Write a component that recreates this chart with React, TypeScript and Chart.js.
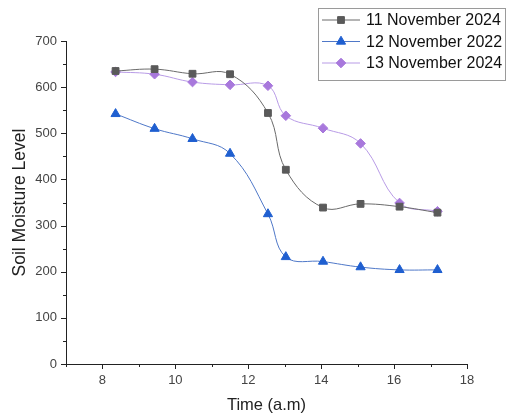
import React, { useEffect, useRef } from 'react';
import { Chart, registerables } from 'chart.js';
import { drawPoint } from 'chart.js/helpers';

Chart.register(...registerables);

const times = [8.36, 9.43, 10.47, 11.5, 12.54, 13.03, 14.05, 15.08, 16.15, 17.19];
const nov11_2024 = [635, 639, 629, 628, 544, 421, 339, 347, 341, 328];
const nov12_2022 = [542, 510, 488, 456, 325, 232, 222, 210, 204, 204];
const nov13_2024 = [633, 628, 611, 605, 603, 538, 511, 478, 349, 331];
const seriesLabels = ['11 November 2024', '12 November 2022', '13 November 2024'];
const xTickValues = [7, 8, 10, 12, 14, 16, 18];
const yTickValues = [0, 100, 200, 300, 400, 500, 600, 700];

const FONT = 'Arial, "Liberation Sans", sans-serif';

const minorTicks = {
  id: 'minorTicks',
  afterDraw(chart: any) {
    const ctx = chart.ctx;
    const xs = chart.scales.x;
    const ys = chart.scales.y;
    const area = chart.chartArea;
    ctx.save();
    ctx.strokeStyle = '#222';
    ctx.lineWidth = 1;
    ctx.beginPath();
    for (let v = 7; v <= 18; v += 1) {
      const px = Math.round(xs.getPixelForValue(v)) + 0.5;
      const len = v % 2 === 0 ? 5 : 3;
      ctx.moveTo(px, area.bottom);
      ctx.lineTo(px, area.bottom + len);
    }
    for (let v = 0; v <= 700; v += 50) {
      const py = Math.round(ys.getPixelForValue(v)) + 0.5;
      const len = v % 100 === 0 ? 5 : 3;
      ctx.moveTo(area.left, py);
      ctx.lineTo(area.left - len, py);
    }
    ctx.stroke();
    ctx.restore();
  },
};

const boxLegend = {
  id: 'boxLegend',
  afterDraw(chart: any) {
    const ctx = chart.ctx;
    ctx.save();
    ctx.strokeStyle = '#9a9a9a';
    ctx.lineWidth = 1;
    ctx.strokeRect(318.5, 8.5, 187, 72);
    chart.data.datasets.forEach((ds: any, i: number) => {
      const y = 20 + i * 21.5;
      ctx.strokeStyle = ds.borderColor;
      ctx.lineWidth = 1;
      ctx.beginPath();
      ctx.moveTo(322, y);
      ctx.lineTo(360, y);
      ctx.stroke();
      ctx.fillStyle = ds.pointBackgroundColor;
      ctx.strokeStyle = ds.pointBorderColor;
      drawPoint(ctx, { pointStyle: ds.pointStyle, radius: ds.pointRadius, borderWidth: 1, rotation: 0 }, 341, y);
      ctx.fillStyle = '#111';
      ctx.font = '16px ' + FONT;
      ctx.textBaseline = 'middle';
      ctx.textAlign = 'left';
      ctx.fillText(ds.label, 366, y + 1);
    });
    ctx.restore();
  },
};

export default function App() {
  const ref = useRef<HTMLCanvasElement>(null);
  useEffect(() => {
    if (!ref.current) return;
    const mk = (vals: number[]) => vals.map((v, i) => ({ x: times[i], y: v }));
    const chart = new Chart(ref.current, {
      type: 'line',
      data: {
        datasets: [
          {
            label: seriesLabels[0],
            data: mk(nov11_2024),
            borderColor: '#6a6a6a',
            backgroundColor: '#5a5a5a',
            pointBackgroundColor: '#5a5a5a',
            pointBorderColor: '#5a5a5a',
            pointStyle: 'rect',
            pointRadius: 4.8,
            borderWidth: 1,
            tension: 0.4,
          },
          {
            label: seriesLabels[1],
            data: mk(nov12_2022),
            borderColor: '#4f78c8',
            backgroundColor: '#1f5fd0',
            pointBackgroundColor: '#1f5fd0',
            pointBorderColor: '#1f5fd0',
            pointStyle: 'triangle',
            pointRadius: 5.3,
            borderWidth: 1,
            tension: 0.4,
          },
          {
            label: seriesLabels[2],
            data: mk(nov13_2024),
            borderColor: '#b89be6',
            backgroundColor: '#a878dc',
            pointBackgroundColor: '#a878dc',
            pointBorderColor: '#a878dc',
            pointStyle: 'rectRot',
            pointRadius: 4.8,
            borderWidth: 1,
            tension: 0.4,
          },
        ] as any,
      },
      options: {
        animation: false,
        responsive: false,
        devicePixelRatio: 1,
        layout: { padding: { top: 41, right: 43, left: 0, bottom: 0 } },
        plugins: { legend: { display: false }, tooltip: { enabled: false } },
        scales: {
          x: {
            type: 'linear',
            min: 7,
            max: 18,
            afterBuildTicks: (s: any) => { s.ticks = xTickValues.map((v) => ({ value: v })); },
            afterFit: (s: any) => { s.height = 52; },
            grid: { display: true, drawOnChartArea: false, drawTicks: true, tickLength: 5, tickColor: 'rgba(0,0,0,0)' },
            border: { display: true, color: '#222', width: 1 },
            ticks: {
              padding: 4,
              color: '#444',
              font: { family: FONT, size: 13 },
              callback: (v: any) => (Number(v) % 2 === 0 ? String(v) : ''),
              maxRotation: 0,
            },
            title: { display: true, text: 'Time (a.m)', color: '#222', font: { family: FONT, size: 16.5 }, padding: { top: 0, bottom: 1 } },
          },
          y: {
            type: 'linear',
            min: 0,
            max: 700,
            afterBuildTicks: (s: any) => { s.ticks = yTickValues.map((v) => ({ value: v })); },
            afterFit: (s: any) => { s.width = 66; },
            grid: { display: true, drawOnChartArea: false, drawTicks: true, tickLength: 5, tickColor: 'rgba(0,0,0,0)' },
            border: { display: true, color: '#222', width: 1 },
            ticks: { padding: 4, color: '#444', font: { family: FONT, size: 13 } },
            title: { display: true, text: 'Soil Moisture Level', color: '#222', font: { family: FONT, size: 17.5 }, padding: { top: 10, bottom: 0 } },
          },
        },
      },
      plugins: [minorTicks, boxLegend],
    });
    return () => chart.destroy();
  }, []);
  return (
    <div style={{ position: 'absolute', left: 0, top: 0, width: 510, height: 416, background: '#fff' }}>
      <canvas ref={ref} width={510} height={416} />
    </div>
  );
}
